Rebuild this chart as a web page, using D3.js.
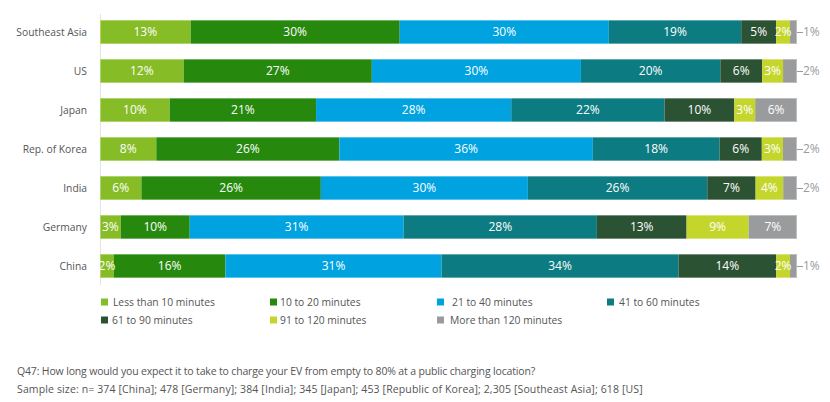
<!DOCTYPE html>
<html>
<head>
<meta charset="utf-8">
<script src="https://cdn.jsdelivr.net/npm/d3@7"></script>
<style>
  html, body { margin: 0; padding: 0; background: #fff; }
  svg { display: block; font-family: "Open Sans", sans-serif; }
</style>
</head>
<body>
<svg id="chart" width="830" height="402"></svg>
<script>
const categories = ["Southeast Asia", "US", "Japan", "Rep. of Korea", "India", "Germany", "China"];
const seriesNames = ["Less than 10 minutes", "10 to 20 minutes", "21 to 40 minutes", "41 to 60 minutes",
                     "61 to 90 minutes", "91 to 120 minutes", "More than 120 minutes"];
const lessThan10 = [13, 12, 10, 8, 6, 3, 2];
const min10to20  = [30, 27, 21, 26, 26, 10, 16];
const min21to40  = [30, 30, 28, 36, 30, 31, 31];
const min41to60  = [19, 20, 22, 18, 26, 28, 34];
const min61to90  = [5, 6, 10, 6, 7, 13, 14];
const min91to120 = [2, 3, 3, 3, 4, 9, 2];
const moreThan120 = [1, 2, 6, 2, 2, 7, 1];
const colors = ["#86BC25", "#26890D", "#00A3E0", "#0D7C82", "#2C5234", "#C4D62B", "#9A9B9D"];
const footnotes = [
  "Q47: How long would you expect it to take to charge your EV from empty to 80% at a public charging location?",
  "Sample size: n= 374 [China]; 478 [Germany]; 384 [India]; 345 [Japan]; 453 [Republic of Korea]; 2,305 [Southeast Asia]; 618 [US]"
];

const seriesValues = [lessThan10, min10to20, min21to40, min41to60, min61to90, min91to120, moreThan120];
const rows = categories.map((c, i) => {
  const r = { category: c };
  seriesNames.forEach((s, j) => r[s] = seriesValues[j][i]);
  return r;
});

const svg = d3.select("#chart");
const x = d3.scaleLinear().domain([0, 1]).range([100, 797]);
const y = d3.scaleBand().domain(categories).range([20, 278]).paddingInner(15 / 39).paddingOuter(0);
const color = d3.scaleOrdinal().domain(seriesNames).range(colors);

const stacked = d3.stack().keys(seriesNames).offset(d3.stackOffsetExpand)(rows);

// axis line
svg.append("line")
  .attr("x1", 100.5).attr("x2", 100.5)
  .attr("y1", 14).attr("y2", 285)
  .attr("stroke", "#e3e3e3").attr("stroke-width", 1);

// category labels
svg.append("g").selectAll("text").data(categories).join("text")
  .attr("x", 87)
  .attr("y", d => y(d) + y.bandwidth() / 2)
  .attr("dy", "0.35em")
  .attr("text-anchor", "end")
  .attr("font-size", 10.3)
  .attr("fill", "#555")
  .text(d => d);

// segments
const layers = svg.append("g").selectAll("g").data(stacked).join("g")
  .attr("fill", d => color(d.key));

layers.selectAll("rect").data(d => d.map(p => ({ p, key: d.key }))).join("rect")
  .attr("x", d => x(d.p[0]))
  .attr("y", d => y(d.p.data.category))
  .attr("width", d => x(d.p[1]) - x(d.p[0]))
  .attr("height", y.bandwidth());

// light outline around each bar
svg.append("g").selectAll("rect").data(categories).join("rect")
  .attr("x", x(0) + 0.5)
  .attr("y", d => y(d) + 0.5)
  .attr("width", x(1) - x(0) - 1)
  .attr("height", y.bandwidth() - 1)
  .attr("fill", "none")
  .attr("stroke", "#ffffff")
  .attr("stroke-opacity", 0.35);

// labels
const lastKey = seriesNames[seriesNames.length - 1];
stacked.forEach(layer => {
  layer.forEach(p => {
    const v = p.data[layer.key];
    const cy = y(p.data.category) + y.bandwidth() / 2;
    if (layer.key === lastKey && v <= 2) {
      const xe = x(p[1]);
      svg.append("line")
        .attr("x1", xe).attr("x2", xe + 6)
        .attr("y1", cy + 0.5).attr("y2", cy + 0.5)
        .attr("stroke", "#9a9b9d").attr("stroke-width", 1);
      svg.append("text")
        .attr("x", xe + 6)
        .attr("y", cy)
        .attr("dy", "0.35em")
        .attr("font-size", 12)
        .attr("fill", "#9a9b9d")
        .text(v + "%");
    } else {
      svg.append("text")
        .attr("x", (x(p[0]) + x(p[1])) / 2)
        .attr("y", cy)
        .attr("dy", "0.35em")
        .attr("text-anchor", "middle")
        .attr("font-size", 12)
        .attr("fill", "#fff")
        .text(v + "%");
    }
  });
});

// legend
const legendCols = [101, 270, 437, 607];
const textOffsets = [12, 10, 15, 12, 11, 10, 13];
const legend = svg.append("g").selectAll("g").data(seriesNames).join("g")
  .attr("transform", (d, i) => `translate(${legendCols[i % 4]},${i < 4 ? 302 : 320})`);
legend.append("rect")
  .attr("x", 0).attr("y", -3.5)
  .attr("width", 7).attr("height", 7)
  .attr("fill", d => color(d));
legend.append("text")
  .attr("x", (d, i) => textOffsets[i])
  .attr("y", 0)
  .attr("dy", "0.35em")
  .attr("font-size", 10.3)
  .attr("fill", "#555")
  .text(d => d);

// footnotes
const footSpacing = [-0.16, 0.13];
svg.append("g").selectAll("text").data(footnotes).join("text")
  .attr("x", 17)
  .attr("y", (d, i) => 375 + i * 18)
  .attr("font-size", 10.5)
  .attr("letter-spacing", (d, i) => footSpacing[i])
  .attr("fill", "#555")
  .text(d => d);
</script>
</body>
</html>
